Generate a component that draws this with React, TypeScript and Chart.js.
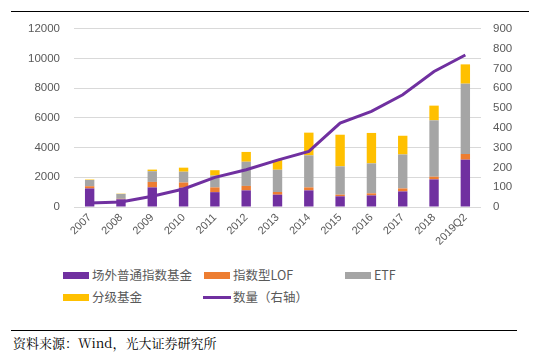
import React, { useEffect, useRef } from "react";
import { Chart, registerables } from "chart.js";
Chart.register(...registerables);

const categories = ["2007", "2008", "2009", "2010", "2011", "2012", "2013", "2014", "2015", "2016", "2017", "2018", "2019Q2"];
const otcIndex = [1250, 520, 1320, 1300, 1000, 1120, 830, 1120, 720, 780, 1050, 1860, 3190];
const lof = [150, 30, 370, 350, 320, 300, 180, 200, 110, 140, 200, 180, 380];
const etf = [420, 330, 720, 730, 800, 1630, 1500, 2160, 1910, 2020, 2290, 3800, 4740];
const graded = [30, 20, 110, 270, 360, 660, 650, 1530, 2130, 2050, 1260, 990, 1300];
const counts = [20, 25, 54, 91, 150, 188, 237, 281, 424, 483, 567, 685, 768];

const leftTicks = { min: 0, max: 12000, step: 2000 };
const rightTicks = { min: 0, max: 900, step: 100 };

const PURPLE = "#7030A0";
const ORANGE = "#ED7D31";
const GRAY = "#A5A5A5";
const YELLOW = "#FFC000";
const TEXT = "#595959";

export default function App() {
  const ref = useRef<HTMLCanvasElement>(null);
  useEffect(() => {
    const font = { family: "'Liberation Sans', Arial, sans-serif", size: 11.5 };
    const plain = (v: any) => String(v);
    const chart = new Chart(ref.current!, {
      type: "bar",
      data: {
        labels: categories,
        datasets: [
          {
            type: "line",
            label: "数量（右轴）",
            data: counts,
            yAxisID: "y1",
            borderColor: PURPLE,
            backgroundColor: PURPLE,
            borderWidth: 3,
            pointRadius: 0,
            tension: 0,
            order: 0,
          } as any,
          { label: "场外普通指数基金", data: otcIndex, backgroundColor: PURPLE, stack: "s", order: 1, yAxisID: "y" },
          { label: "指数型LOF", data: lof, backgroundColor: ORANGE, stack: "s", order: 1, yAxisID: "y" },
          { label: "ETF", data: etf, backgroundColor: GRAY, stack: "s", order: 1, yAxisID: "y" },
          { label: "分级基金", data: graded, backgroundColor: YELLOW, stack: "s", order: 1, yAxisID: "y" },
        ],
      },
      options: {
        animation: false,
        responsive: false,
        maintainAspectRatio: false,
        layout: { padding: { top: 7, left: 0, right: 0, bottom: 0 } },
        datasets: { bar: { barPercentage: 0.3, categoryPercentage: 1 } },
        plugins: { legend: { display: false }, tooltip: { enabled: false } },
        scales: {
          x: {
            stacked: true,
            grid: { display: false, drawTicks: false },
            border: { display: false },
            ticks: { minRotation: 45, maxRotation: 45, color: TEXT, font: { ...font, size: 11 }, padding: 4, autoSkip: false },
            afterFit: (s: any) => { s.height = 55; },
          },
          y: {
            stacked: true,
            position: "left",
            min: leftTicks.min,
            max: leftTicks.max,
            ticks: { stepSize: leftTicks.step, color: TEXT, font, padding: 14, callback: plain },
            grid: { color: "#D9D9D9", drawTicks: false, lineWidth: 1 },
            border: { display: false },
            afterFit: (s: any) => { s.width = 74; },
          },
          y1: {
            position: "right",
            min: rightTicks.min,
            max: rightTicks.max,
            ticks: { stepSize: rightTicks.step, color: TEXT, font, padding: 12, callback: plain },
            grid: { display: false, drawOnChartArea: false, drawTicks: false },
            border: { display: false },
            afterFit: (s: any) => { s.width = 54; },
          },
        },
      } as any,
    });
    return () => chart.destroy();
  }, []);

  const legendFont: React.CSSProperties = {
    position: "absolute",
    fontFamily: "'Noto Sans CJK SC', sans-serif",
    fontSize: 12.5,
    color: TEXT,
    lineHeight: "16px",
    whiteSpace: "nowrap",
  };
  const box = (x: number, y: number, c: string): React.CSSProperties => ({
    position: "absolute", left: x, top: y - 3.5, width: 26, height: 7, background: c,
  });
  const text = (x: number, y: number): React.CSSProperties => ({ ...legendFont, left: x, top: y - 8 });

  return (
    <div style={{ position: "fixed", left: 0, top: 0, width: 535, height: 356, background: "#fff", overflow: "hidden" }}>
      <div style={{ position: "absolute", left: 11, top: 11, width: 518, height: 1, background: "#000" }} />
      <canvas ref={ref} width={535} height={254} style={{ position: "absolute", left: 0, top: 8, width: 535, height: 254 }} />
      <div style={box(63, 275, PURPLE)} />
      <div style={text(92, 275)}>场外普通指数基金</div>
      <div style={box(204, 275, ORANGE)} />
      <div style={text(233, 275)}>指数型LOF</div>
      <div style={box(345, 275, GRAY)} />
      <div style={text(374, 275)}>ETF</div>
      <div style={box(63, 297, YELLOW)} />
      <div style={text(92, 297)}>分级基金</div>
      <div style={{ position: "absolute", left: 203, top: 296, width: 28, height: 3, background: PURPLE }} />
      <div style={text(233, 297)}>数量（右轴）</div>
      <div style={{ position: "absolute", left: 11, top: 330, width: 506, height: 1, background: "#000" }} />
      <div style={{ position: "absolute", left: 13, top: 334, fontFamily: "'Noto Serif CJK SC', 'Noto Sans CJK SC', serif", fontSize: 13, lineHeight: "18px", color: "#000", whiteSpace: "nowrap" }}>
        资料来源：Wind，光大证券研究所
      </div>
    </div>
  );
}
